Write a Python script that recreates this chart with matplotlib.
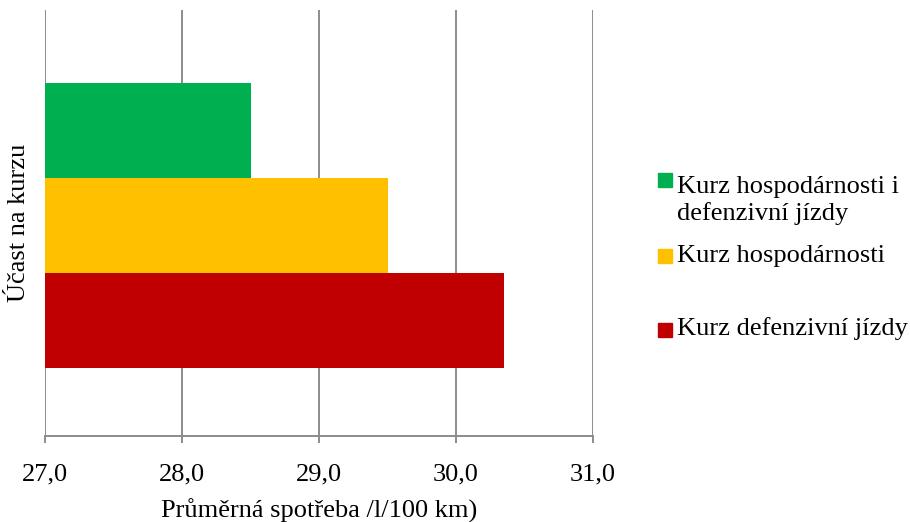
import matplotlib.pyplot as plt
from matplotlib.patches import Rectangle

plt.rcParams['font.family'] = ['Liberation Serif', 'DejaVu Serif']

# bottom to top, as drawn
courses = ['Kurz defenzivní jízdy', 'Kurz hospodárnosti',
           'Kurz hospodárnosti i\ndefenzivní jízdy']
consumption = [30.35, 29.5, 28.5]
colors = ['#C00000', '#FFC000', '#00B050']
ticks = [27, 28, 29, 30, 31]
tick_labels = ['27,0', '28,0', '29,0', '30,0', '31,0']

W, H = 910, 522
fig = plt.figure(figsize=(W / 100, H / 100), dpi=100)
ax = fig.add_axes([45 / W, 86 / H, 548 / W, 426 / H])

bar_h = 0.223
for i, (val, c) in enumerate(zip(consumption, colors)):
    ax.barh((i - 1) * bar_h, val, height=bar_h, color=c, zorder=2)

ax.set_xlim(27, 31)
ax.set_ylim(-0.495, 0.505)
ax.set_xticks(ticks)
ax.set_xticklabels(tick_labels, fontsize=19)
ax.set_yticks([])
ax.grid(axis='x', color='#8c8c8c', linewidth=1.4, zorder=0)

for s in ['top', 'right', 'left']:
    ax.spines[s].set_visible(False)
ax.spines['bottom'].set_color('#8c8c8c')
ax.spines['bottom'].set_linewidth(1.4)
ax.tick_params(axis='x', direction='out', length=5, width=1.4,
               color='#8c8c8c', pad=15)

ax.set_xlabel('Průměrná spotřeba /l/100 km)', fontsize=19, labelpad=9.5)
ax.set_ylabel('Účast na kurzu', fontsize=19, labelpad=11)

# legend entries, top to bottom
leg_sq = [180, 256, 330]
leg_base = [193, 262, 335]
for i, k in enumerate([2, 1, 0]):
    y = leg_sq[i]
    fig.patches.append(Rectangle((658 / W, 1 - (y + 7) / H), 14 / W, 14 / H,
                                 transform=fig.transFigure, color=colors[k]))
    for j, line in enumerate(courses[k].split('\n')):
        fig.text(677 / W, 1 - (leg_base[i] + 27 * j) / H, line,
                 fontsize=19, va='baseline', ha='left')

fig.savefig('out.png', dpi=100)
